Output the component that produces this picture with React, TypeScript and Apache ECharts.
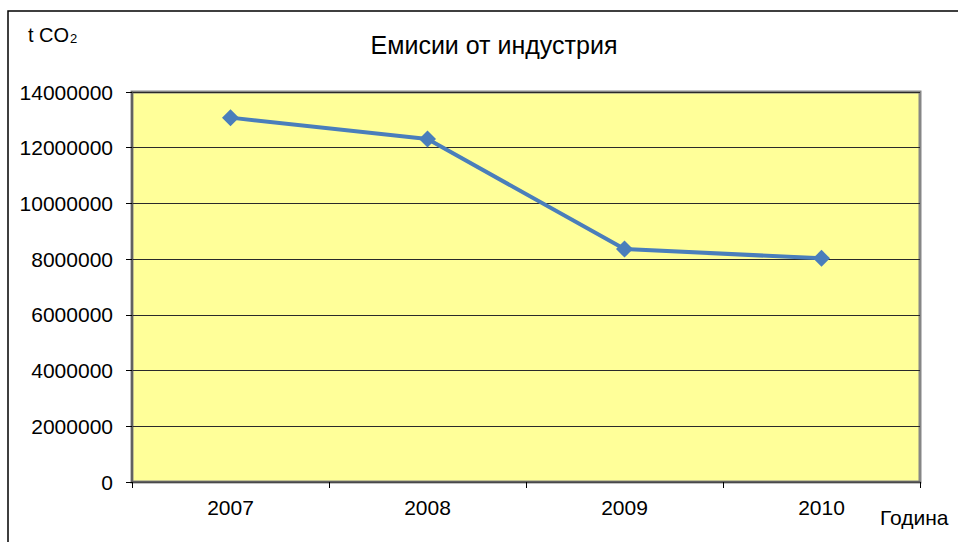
import React, { useEffect, useRef } from "react";
import * as echarts from "echarts";

const years = ["2007", "2008", "2009", "2010"];
const emissions = [13080000, 12310000, 8360000, 8030000];
const yMin = 0;
const yMax = 14000000;
const yInterval = 2000000;
const titleText = "Емисии от индустрия";
const xName = "Година";

export default function App() {
  const ref = useRef<HTMLDivElement>(null);
  useEffect(() => {
    if (!ref.current) return;
    const chart = echarts.init(ref.current, undefined, { renderer: "svg" });
    const font = "Arial, 'Liberation Sans', sans-serif";
    chart.setOption({
      animation: false,
      backgroundColor: "#ffffff",
      title: {
        text: titleText,
        left: 489,
        top: 27,
        textAlign: "center",
        textStyle: { fontFamily: font, fontSize: 25, fontWeight: "normal", color: "#000" },
      },
      graphic: [
        {
          type: "rect",
          shape: { x: 8, y: 11, width: 1000, height: 600 },
          style: { fill: "none", stroke: "#000", lineWidth: 1.5 },
          silent: true,
        },
        {
          type: "text",
          left: 28,
          top: 25,
          style: {
            text: "{a|t CO}{b|2}",
            rich: {
              a: { fontFamily: font, fontSize: 20, fill: "#000", verticalAlign: "bottom" },
              b: { fontFamily: font, fontSize: 13, fill: "#000", padding: [9, 0, 0, 1], verticalAlign: "bottom" },
            },
          },
        },
      ],
      grid: {
        left: 132,
        top: 92,
        right: 38,
        bottom: 60,
        show: true,
        backgroundColor: "#FFFF99",
        borderColor: "#868686",
        borderWidth: 3,
      },
      xAxis: {
        type: "category",
        data: years,
        boundaryGap: true,
        name: xName,
        nameLocation: "end",
        nameGap: 0,
        nameTextStyle: {
          fontFamily: font,
          fontSize: 21,
          color: "#000",
          align: "left",
          verticalAlign: "top",
          padding: [25, 0, 0, -40],
        },
        axisLine: { show: true, lineStyle: { color: "#555", width: 1.5 } },
        axisTick: { show: true, length: 6, lineStyle: { color: "#000" } },
        axisLabel: { fontFamily: font, fontSize: 21, color: "#000", margin: 15 },
        splitLine: { show: false },
      },
      yAxis: {
        type: "value",
        min: yMin,
        max: yMax,
        interval: yInterval,
        axisLine: { show: true, lineStyle: { color: "#555", width: 1.5 } },
        axisTick: { show: true, length: 6, lineStyle: { color: "#000" } },
        axisLabel: {
          fontFamily: font,
          fontSize: 21,
          color: "#000",
          margin: 19,
          formatter: (v: number) => String(v),
        },
        splitLine: { show: true, lineStyle: { color: "#2a2a2a", width: 1 } },
      },
      series: [
        {
          type: "line",
          data: emissions,
          symbol: "diamond",
          symbolSize: 17,
          lineStyle: { color: "#4A7EBB", width: 4 },
          itemStyle: { color: "#4A7EBB" },
        },
      ],
    });
    return () => chart.dispose();
  }, []);
  return <div ref={ref} style={{ width: 958, height: 542, position: "absolute", left: 0, top: 0 }} />;
}
